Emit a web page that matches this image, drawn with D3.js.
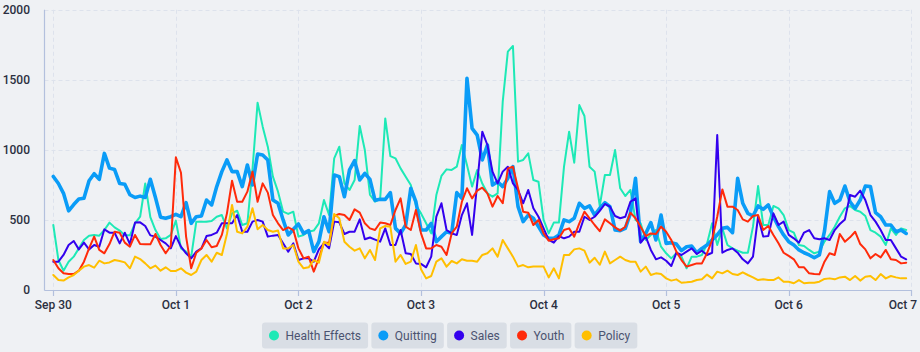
<!DOCTYPE html>
<html><head><meta charset="utf-8">
<script src="https://cdn.jsdelivr.net/npm/d3@7"></script>
<style>
html,body{margin:0;padding:0;background:#eff1f4;}
svg{display:block;font-family:Roboto,"Noto Sans",sans-serif;}
</style></head><body>
<svg id="chart" width="920" height="352"></svg>
<script>
const seriesNames = ["Health Effects", "Quitting", "Sales", "Youth", "Policy"];
const seriesColors = ["#1de9b6", "#0a9cf7", "#3300ee", "#ff2a0a", "#ffbf00"];
const dayLabels = ["Sep 30", "Oct 1", "Oct 2", "Oct 3", "Oct 4", "Oct 5", "Oct 6", "Oct 7"];
const yTickValues = [0, 500, 1000, 1500, 2000];

const health = [464,214,138,202,238,297,357,388,393,388,
428,481,447,424,390,390,476,523,760,520,
428,364,369,393,495,297,274,238,488,488,
488,492,523,535,440,547,566,464,476,860,
1337,1166,1023,809,702,559,543,559,381,393,
416,424,476,642,535,940,1023,761,714,785,
1171,999,680,630,650,1225,956,940,868,809,
750,607,547,476,404,678,814,861,857,880,
1035,892,738,857,760,690,666,690,1344,1701,
1742,916,928,975,785,773,500,404,481,481,
880,1130,909,1320,1242,880,845,600,821,821,
999,726,671,714,500,476,357,393,428,309,
262,226,262,238,155,238,238,250,330,476,
321,440,321,297,281,266,266,452,742,464,
464,600,583,535,428,409,321,314,286,262,
274,345,393,452,523,583,600,571,559,528,
428,409,381,321,440,393,440,428];

const quitting = [810,760,690,565,610,650,655,780,830,790,
975,870,860,760,755,680,660,670,660,790,
660,520,512,523,540,523,623,476,523,528,
642,607,738,845,928,845,845,738,892,750,
971,964,928,642,619,500,393,433,471,404,
424,274,345,523,416,821,809,666,857,923,
785,833,790,640,647,647,695,440,404,464,
726,630,428,428,476,345,381,416,404,695,
654,1511,1154,1106,928,1035,749,773,738,797,
880,595,488,535,512,452,392,369,369,392,
500,488,512,619,583,600,535,583,623,595,
428,424,440,547,797,345,404,481,357,535,
333,338,328,281,309,314,266,297,321,357,
393,440,447,409,797,619,547,528,600,576,
607,523,452,393,345,321,286,266,250,230,
250,420,702,619,642,742,630,583,642,742,
738,552,523,464,464,416,428,404];

const sales = [202,202,250,321,350,290,338,290,321,309,
433,409,409,333,409,328,481,483,457,390,
381,357,333,297,385,309,262,226,274,297,
385,393,409,476,476,476,535,416,416,488,
500,488,381,388,393,333,274,333,214,226,
226,202,290,333,297,488,483,400,416,416,
504,362,375,360,345,440,321,321,428,262,
257,190,186,162,238,523,619,428,404,393,
535,619,393,761,1130,1035,845,761,845,880,
761,714,619,714,583,523,440,357,338,385,
369,381,416,416,523,500,523,565,614,595,
528,512,523,630,654,338,381,286,219,233,
209,171,266,250,274,297,257,280,250,266,
1106,266,286,297,266,219,190,238,523,381,
385,547,464,488,393,369,338,410,428,369,
362,369,357,428,471,504,678,666,709,642,
535,488,428,357,357,297,238,219];

const youth = [214,155,119,114,114,138,202,297,381,286,
262,328,416,409,338,309,393,328,326,326,
400,321,262,314,947,837,381,155,266,297,
357,305,314,393,547,780,630,630,702,845,
630,761,695,535,476,428,447,428,297,226,
238,131,226,338,338,528,543,535,500,576,
552,476,440,428,481,476,464,571,654,452,
428,571,404,297,297,321,309,250,404,452,
630,726,654,709,730,690,595,671,619,868,
880,726,559,552,464,500,404,352,362,369,
428,440,381,476,559,512,464,420,504,476,
447,424,452,552,512,452,385,404,400,452,
416,357,274,214,167,178,190,190,262,357,
523,718,595,595,571,504,488,528,535,428,
457,393,333,266,243,219,162,162,119,114,
112,202,262,250,400,345,376,416,328,290,
226,257,233,286,219,214,190,195];

const policy = [107,71,67,90,107,138,167,178,159,209,
190,197,214,207,197,155,238,221,190,155,
174,138,162,136,136,155,124,107,131,214,
250,202,266,250,400,607,416,404,452,583,
433,464,428,416,424,297,297,321,202,155,
162,214,195,345,321,543,512,345,309,281,
297,226,286,214,440,457,452,202,250,186,
202,321,148,83,100,202,226,167,207,190,
219,209,209,202,250,262,297,238,357,297,
238,167,178,162,167,167,167,90,155,83,
250,250,290,297,281,195,230,180,274,190,
214,238,214,202,202,131,167,107,119,114,
83,67,76,52,55,59,71,76,110,83,
131,119,138,114,107,126,107,90,71,76,
71,71,90,59,59,48,71,48,52,52,
59,79,83,76,90,95,71,100,67,95,
100,71,114,83,100,90,83,83];

const seriesData = [health, quitting, sales, youth, policy];
const strokeWidths = [2, 3.6, 2, 2, 2];

const start = Date.UTC(2023, 8, 30);
const HOUR = 3600e3, DAY = 86400e3;
const dayTicks = dayLabels.map((_, i) => new Date(start + i * DAY));

const svg = d3.select("#chart");
const W = 920, H = 352;
const axisLeft = 44.5, axisRight = 912, yBottom = 290, yTop = 9.8;

const x = d3.scaleUtc().domain([new Date(start), new Date(start + 7 * DAY)]).range([53.3, 911.3]);
const y = d3.scaleLinear().domain([0, 2000]).range([yBottom, yTop]);

// grid
const grid = svg.append("g");
grid.selectAll("line.h").data(yTickValues.filter(v => v > 0)).join("line")
  .attr("x1", axisLeft).attr("x2", axisRight)
  .attr("y1", d => Math.round(y(d)) + 0.5).attr("y2", d => Math.round(y(d)) + 0.5)
  .attr("stroke", "#dde2ec").attr("stroke-dasharray", "4,3");
grid.selectAll("line.v").data(dayTicks).join("line")
  .attr("x1", d => Math.round(x(d)) + 0.5).attr("x2", d => Math.round(x(d)) + 0.5)
  .attr("y1", yTop).attr("y2", yBottom)
  .attr("stroke", "#dde2ec").attr("stroke-dasharray", "4,3");

// axes
const axisColor = "#b3c0dd";
svg.append("line").attr("x1", axisLeft).attr("x2", axisLeft).attr("y1", yTop).attr("y2", yBottom + 0.5)
  .attr("stroke", axisColor).attr("stroke-width", 1.2);
svg.append("line").attr("x1", axisLeft).attr("x2", axisRight).attr("y1", yBottom + 0.5).attr("y2", yBottom + 0.5)
  .attr("stroke", axisColor).attr("stroke-width", 1.2);
svg.selectAll("line.xt").data(dayTicks).join("line")
  .attr("x1", d => Math.round(x(d)) + 0.5).attr("x2", d => Math.round(x(d)) + 0.5)
  .attr("y1", yBottom).attr("y2", yBottom + 6)
  .attr("stroke", axisColor).attr("stroke-width", 1.2);

svg.selectAll("text.yl").data(yTickValues).join("text")
  .attr("x", 30).attr("y", d => y(d)).attr("dy", "0.36em")
  .attr("text-anchor", "end").attr("font-size", 12).attr("font-weight", 500)
  .attr("fill", "#2b2f40").text(d => d);

svg.selectAll("text.xl").data(dayTicks).join("text")
  .attr("x", (d, i) => i === dayTicks.length - 1 ? 917 : x(d))
  .attr("y", 309)
  .attr("text-anchor", (d, i) => i === dayTicks.length - 1 ? "end" : "middle")
  .attr("font-size", 12).attr("font-weight", 500)
  .attr("fill", "#2b2f40").text((d, i) => dayLabels[i]);

// lines
const line = d3.line().x((d, i) => x(new Date(start + i * HOUR))).y(d => y(d));
svg.append("g").selectAll("path").data(seriesData).join("path")
  .attr("d", d => line(d))
  .attr("fill", "none")
  .attr("stroke", (d, i) => seriesColors[i])
  .attr("stroke-width", (d, i) => strokeWidths[i])
  .attr("stroke-linejoin", "round").attr("stroke-linecap", "round");

// legend
const lg = svg.append("g");
let lx = 262;
seriesNames.forEach((name, i) => {
  const g = lg.append("g");
  const rect = g.append("rect").attr("x", lx).attr("y", 322.5).attr("height", 26).attr("rx", 3)
    .attr("fill", "#d9dee5");
  g.append("circle").attr("cx", lx + 12).attr("cy", 335.5).attr("r", 5).attr("fill", seriesColors[i]);
  const t = g.append("text").attr("x", lx + 23.5).attr("y", 335.5).attr("dy", "0.36em")
    .attr("font-size", 12).attr("fill", "#4b5370").text(name);
  const tw = t.node().getComputedTextLength();
  const bw = 23.5 + tw + 7;
  rect.attr("width", bw);
  lx += bw + 3.3;
});
</script>
</body></html>
